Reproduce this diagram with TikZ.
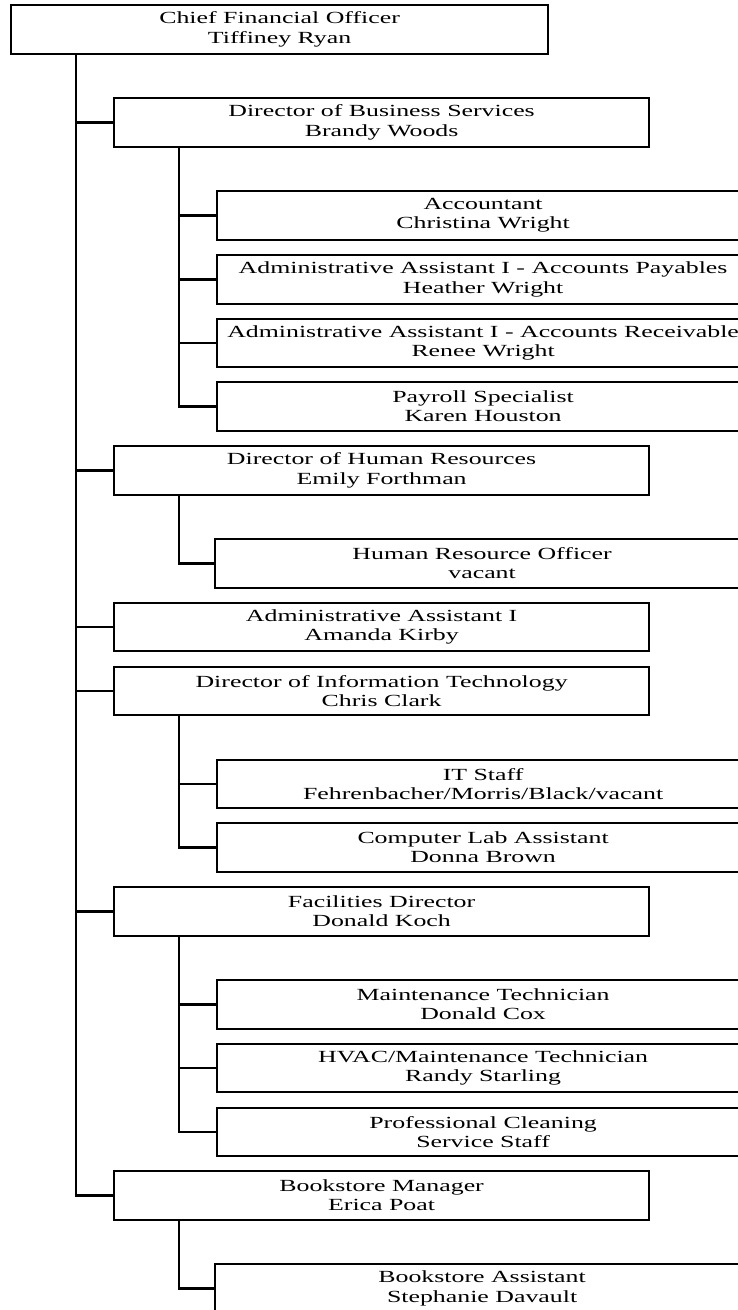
\documentclass[tikz,border=0pt]{standalone}
\usepackage{fontspec}
\setmainfont{Liberation Serif}[FakeStretch=1.52]
\begin{document}
\begin{tikzpicture}[x=1pt,y=-1pt,
  box/.style={draw, line width=2.2pt, rectangle, anchor=north west,
    minimum height=48.5pt, inner sep=0pt, align=center,
    font=\fontsize{17}{19.2}\selectfont},
  topbox/.style={box, minimum width=537pt},
  midbox/.style={box, minimum width=535pt},
  subbox/.style={box, minimum width=532pt},
  subboxw/.style={box, minimum width=534pt},
  link/.style={line width=2.3pt}]
\clip (0,0) rectangle (738,1310);
\fill[white] (0,0) rectangle (738,1310);
\coordinate (T0) at (76,0);
\coordinate (T1) at (179,0);

\node[topbox] (cfo) at (10,4) {Chief Financial Officer\\Tiffiney Ryan};
\node[midbox] (dbs) at (113,97) {Director of Business Services\\Brandy Woods};
\node[subbox] (acc) at (216,190) {Accountant\\Christina Wright};
\node[subbox] (aap) at (216,254) {Administrative Assistant I - Accounts Payables\\Heather Wright};
\node[subbox] (aar) at (216,317.5) {Administrative Assistant I - Accounts Receivable\\Renee Wright};
\node[subbox] (pay) at (216,381) {Payroll Specialist\\Karen Houston};
\node[midbox] (dhr) at (113,445) {Director of Human Resources\\Emily Forthman};
\node[subboxw] (hro) at (214,538) {Human Resource Officer\\vacant};
\node[midbox] (aai) at (113,601.5) {Administrative Assistant I\\Amanda Kirby};
\node[midbox] (dit) at (113,665.5) {Director of Information Technology\\Chris Clark};
\node[subbox] (its) at (216,758.5) {IT Staff\\Fehrenbacher/Morris/Black/vacant};
\node[subbox] (cla) at (216,822) {Computer Lab Assistant\\Donna Brown};
\node[midbox] (fd) at (113,886) {Facilities Director\\Donald Koch};
\node[subbox] (mt) at (216,979) {Maintenance Technician\\Donald Cox};
\node[subbox] (hvac) at (216,1042.5) {HVAC/Maintenance Technician\\Randy Starling};
\node[subbox] (pcs) at (216,1106.5) {Professional Cleaning\\Service Staff};
\node[midbox] (bm) at (113,1170) {Bookstore Manager\\Erica Poat};
\node[subboxw] (ba) at (214,1263) {Bookstore Assistant\\Stephanie Davault};

\foreach \c in {dbs,dhr,aai,dit,fd,bm}
  \draw[link] (cfo.south -| T0) |- (\c.west);
\foreach \c in {acc,aap,aar,pay}
  \draw[link] (dbs.south -| T1) |- (\c.west);
\draw[link] (dhr.south -| T1) |- (hro.west);
\foreach \c in {its,cla}
  \draw[link] (dit.south -| T1) |- (\c.west);
\foreach \c in {mt,hvac,pcs}
  \draw[link] (fd.south -| T1) |- (\c.west);
\draw[link] (bm.south -| T1) |- (ba.west);
\end{tikzpicture}
\end{document}
